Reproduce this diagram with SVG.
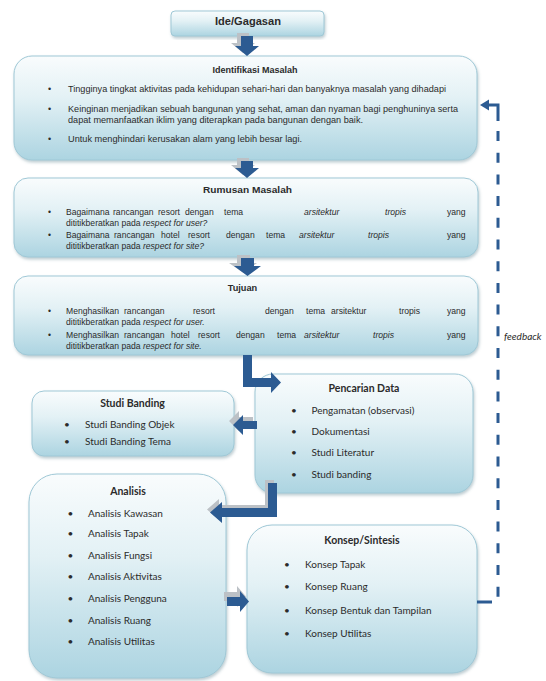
<svg xmlns="http://www.w3.org/2000/svg" width="546" height="681" viewBox="0 0 546 681">
<defs>
<linearGradient id="bg" x1="0" y1="0" x2="0" y2="1">
<stop offset="0" stop-color="#f9fcfd"/>
<stop offset="0.4" stop-color="#e3f1f5"/>
<stop offset="1" stop-color="#acd4e1"/>
</linearGradient>
<filter id="sh" x="-5%" y="-5%" width="110%" height="120%">
<feDropShadow dx="1" dy="2" stdDeviation="1.5" flood-color="#6f8f9c" flood-opacity="0.45"/>
</filter>
</defs>
<style>
.box{fill:url(#bg);stroke:#9fc8d6;stroke-width:1;filter:url(#sh)}
.t{font-family:"Liberation Sans",Arial,sans-serif;fill:#2b2b2b}
.h{font-weight:bold;text-anchor:middle}
.b1{font-size:9px}
.b2{font-size:8.6px}
.l{font-family:Lato,"Open Sans",sans-serif;fill:#2b2b2b;font-size:10px}
.lh{font-family:Lato,"Open Sans",sans-serif;fill:#2b2b2b;font-size:10.5px;font-weight:bold;text-anchor:middle}
.i{font-style:italic}
.arr{fill:#2c5b92}
.arrs{fill:#bcc1c6}
.fb{stroke:#2c5b92;stroke-width:3;fill:none}
</style>
<rect width="546" height="681" fill="#ffffff"/>

<g id="ide">
<rect class="box" x="171" y="11" width="153" height="25" rx="4"/>
<text class="t h" x="248" y="24.5" font-size="10" textLength="66" lengthAdjust="spacingAndGlyphs">Ide/Gagasan</text>
</g>

<g id="identifikasi">
<rect class="box" x="14" y="56" width="463" height="104" rx="18"/>
<text class="t h" x="255" y="72.5" font-size="9" textLength="85" lengthAdjust="spacingAndGlyphs">Identifikasi Masalah</text>
<text class="t b1" x="48" y="92">•</text>
<text class="t b1" x="68" y="92" textLength="378" lengthAdjust="spacingAndGlyphs">Tingginya tingkat aktivitas pada kehidupan sehari-hari dan banyaknya masalah yang dihadapi</text>
<text class="t b1" x="48" y="112">•</text>
<text class="t b1" x="68" y="112" textLength="390" lengthAdjust="spacingAndGlyphs">Keinginan menjadikan sebuah bangunan yang sehat, aman dan nyaman bagi penghuninya serta</text>
<text class="t b1" x="68" y="123" textLength="295" lengthAdjust="spacingAndGlyphs">dapat memanfaatkan iklim yang diterapkan pada bangunan dengan baik.</text>
<text class="t b1" x="48" y="142">•</text>
<text class="t b1" x="68" y="142" textLength="234" lengthAdjust="spacingAndGlyphs">Untuk  menghindari kerusakan alam yang lebih besar lagi.</text>
</g>

<g id="rumusan">
<rect class="box" x="14" y="178" width="464" height="79" rx="14"/>
<text class="t h" x="247.5" y="192.5" font-size="9.5" textLength="89" lengthAdjust="spacingAndGlyphs">Rumusan Masalah</text>
<text class="t b2" x="48" y="215">•</text>
<text class="t b2" y="215"><tspan x="66">Bagaimana</tspan><tspan x="113">rancangan</tspan><tspan x="158">resort</tspan><tspan x="185">dengan</tspan><tspan x="224">tema</tspan><tspan x="304" class="i">arsitektur</tspan><tspan x="385" class="i">tropis</tspan><tspan x="447">yang</tspan></text>
<text class="t b2" x="66" y="226">dititikberatkan pada <tspan class="i">respect for user?</tspan></text>
<text class="t b2" x="48" y="237.5">•</text>
<text class="t b2" y="237.5"><tspan x="66">Bagaimana</tspan><tspan x="114">rancangan</tspan><tspan x="161">hotel</tspan><tspan x="188">resort</tspan><tspan x="226">dengan</tspan><tspan x="266">tema</tspan><tspan x="299" class="i">arsitektur</tspan><tspan x="368" class="i">tropis</tspan><tspan x="447">yang</tspan></text>
<text class="t b2" x="66" y="248.5">dititikberatkan pada <tspan class="i">respect for site?</tspan></text>
</g>

<g id="tujuan">
<rect class="box" x="14" y="276" width="464" height="79" rx="14"/>
<text class="t h" x="242.5" y="290.5" font-size="9.5" textLength="29.5" lengthAdjust="spacingAndGlyphs">Tujuan</text>
<text class="t b2" x="48" y="313.5">•</text>
<text class="t b2" y="313.5"><tspan x="66">Menghasilkan</tspan><tspan x="124">rancangan</tspan><tspan x="193">resort</tspan><tspan x="265">dengan</tspan><tspan x="306">tema</tspan><tspan x="331">arsitektur</tspan><tspan x="399">tropis</tspan><tspan x="447">yang</tspan></text>
<text class="t b2" x="66" y="324.5">dititikberatkan pada <tspan class="i">respect for user.</tspan></text>
<text class="t b2" x="48" y="337.5">•</text>
<text class="t b2" y="337.5"><tspan x="66">Menghasilkan</tspan><tspan x="124">rancangan</tspan><tspan x="171">hotel</tspan><tspan x="198">resort</tspan><tspan x="236">dengan</tspan><tspan x="277">tema</tspan><tspan x="304" class="i">arsitektur</tspan><tspan x="373" class="i">tropis</tspan><tspan x="447">yang</tspan></text>
<text class="t b2" x="66" y="349">dititikberatkan pada <tspan class="i">respect for site.</tspan></text>
</g>

<g id="pencarian">
<rect class="box" x="255" y="374" width="218" height="119" rx="18"/>
<text class="lh" x="364" y="392">Pencarian Data</text>
<text class="l" x="291" y="414">•</text>
<text class="l" x="311.5" y="414">Pengamatan (observasi)</text>
<text class="l" x="291" y="435">•</text>
<text class="l" x="311.5" y="435">Dokumentasi</text>
<text class="l" x="291" y="455.5">•</text>
<text class="l" x="311.5" y="455.5">Studi Literatur</text>
<text class="l" x="291" y="477.5">•</text>
<text class="l" x="311.5" y="477.5">Studi banding</text>
</g>

<g id="studi-banding">
<rect class="box" x="32" y="391" width="202" height="65" rx="12"/>
<text class="lh" x="132.5" y="407">Studi Banding</text>
<text class="l" x="64" y="427.5">•</text>
<text class="l" x="85" y="427.5">Studi Banding Objek</text>
<text class="l" x="64" y="444.5">•</text>
<text class="l" x="85" y="444.5">Studi Banding Tema</text>
</g>

<g id="analisis">
<rect class="box" x="29" y="474" width="197" height="204" rx="28"/>
<text class="lh" x="128" y="494.5">Analisis</text>
<text class="l" x="67.5" y="516.5">•</text>
<text class="l" x="88" y="516.5">Analisis Kawasan</text>
<text class="l" x="67.5" y="537">•</text>
<text class="l" x="88" y="537">Analisis Tapak</text>
<text class="l" x="67.5" y="558.5">•</text>
<text class="l" x="88" y="558.5">Analisis Fungsi</text>
<text class="l" x="67.5" y="580">•</text>
<text class="l" x="88" y="580">Analisis Aktivitas</text>
<text class="l" x="67.5" y="601.5">•</text>
<text class="l" x="88" y="601.5">Analisis Pengguna</text>
<text class="l" x="67.5" y="623.5">•</text>
<text class="l" x="88" y="623.5">Analisis Ruang</text>
<text class="l" x="67.5" y="645">•</text>
<text class="l" x="88" y="645">Analisis Utilitas</text>
</g>

<g id="konsep">
<rect class="box" x="247" y="525" width="230" height="148" rx="25"/>
<text class="lh" x="362" y="544">Konsep/Sintesis</text>
<text class="l" x="284" y="567.5">•</text>
<text class="l" x="305" y="567.5">Konsep Tapak</text>
<text class="l" x="284" y="590">•</text>
<text class="l" x="305" y="590">Konsep Ruang</text>
<text class="l" x="284" y="614">•</text>
<text class="l" x="305" y="614">Konsep Bentuk dan Tampilan</text>
<text class="l" x="284" y="636.5">•</text>
<text class="l" x="305" y="636.5">Konsep Utilitas</text>
</g>

<g id="connectors">
<polygon class="arrs" points="237,33 249,33 249,43 255,43 243,53 231,43 237,43"/>
<polygon class="arr" points="241,36 253,36 253,46 259,46 247,56 235,46 241,46"/>
<polygon class="arrs" points="237,158 249,158 249,165 255,165 243,175 231,165 237,165"/>
<polygon class="arr" points="241,161 253,161 253,168 259,168 247,178 235,168 241,168"/>
<polygon class="arrs" points="237,255 250,255 250,263 257,263 243.5,273 229,263 237,263"/>
<polygon class="arr" points="241,258 254,258 254,266 261,266 247.5,276 234,266 241,266"/>
<polygon class="arr" points="243,355 252,355 252,378 271,378 271,372 281,382.5 271,393 271,387 243,387"/>
<polygon class="arrs" points="253,417 253,425 239,425 239,431 229,421 239,411 239,417"/>
<polygon class="arr" points="257,421 257,429 243,429 243,435 233,425 243,415 243,421"/>
<polygon class="arrs" points="265,480 274,480 274,514 219,514 219,520 207,509.5 219,499 219,505 265,505"/>
<polygon class="arr" points="268,483 277,483 277,517 222,517 222,523 210,512.5 222,502 222,508 268,508"/>
<polygon class="arrs" points="224,592 237,592 237,586 246,596.5 237,607 237,601 224,601"/>
<polygon class="arr" points="227,597 240,597 240,591 249,601.5 240,612 240,606 227,606"/>
<polygon class="arr" points="480,105 489,99.5 489,110.5"/>
<path class="fb" d="M488 105 H498 V121"/>
<line class="fb" x1="498" y1="131" x2="498" y2="606" stroke-dasharray="10 11.7"/>
<line class="fb" x1="477" y1="602" x2="492" y2="602"/>
<text class="l i" x="504" y="340">feedback</text>
</g>
</svg>
